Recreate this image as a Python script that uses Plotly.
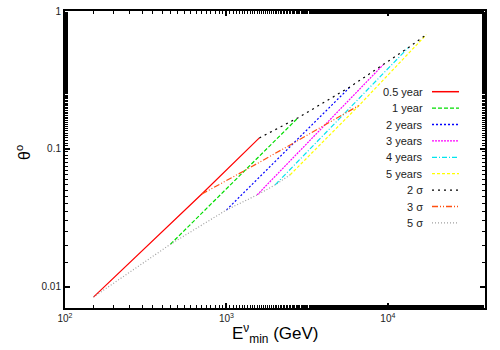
import plotly.graph_objects as go

# valores (E en GeV, theta en grados)
nombres_anios = ["0.5 year", "1 year", "2 years", "3 years", "4 years", "5 years"]
nombres_sigma = ["2 σ", "3 σ", "5 σ"]

# extremo inferior de cada curva (sobre la línea de 5 sigma)
e_5sigma = [150, 450, 1000, 1550, 2005, 2484]
th_5sigma = [0.0084, 0.0203, 0.036, 0.0463, 0.0548, 0.0648]

# cruce con la línea de 3 sigma
e_3sigma = [704, 1306, 2636, 4030, 5260, 6650]
th_3sigma = [0.047, 0.0698, 0.111, 0.147, 0.175, 0.207]

# extremo superior (sobre la línea de 2 sigma)
e_2sigma = [1600, 2780, 5850, 9350, 13370, 17300]
th_2sigma = [0.12, 0.168, 0.282, 0.407, 0.541, 0.673]

x_ticks = [100, 1000, 10000]
x_ticktext = ["10<sup>2</sup>", "10<sup>3</sup>", "10<sup>4</sup>"]
y_ticks = [0.01, 0.1, 1]
y_ticktext = ["0.01", "0.1", "1"]

colores_anios = ["#ff0000", "#00dd00", "#0000ff", "#ff00ff", "#00e5ee", "#ffff00"]
dash_anios = ["solid", "4px,2px", "2px,2px", "2px,1px", "5px,2px,1px,2px", "3px,2px"]
colores_sigma = ["#000000", "#ff5010", "#a0a0a0"]
dash_sigma = ["2px,4px", "6px,2px,1px,2px,1px,2px", "1px,2px"]

fig = go.Figure()

for i, nombre in enumerate(nombres_anios):
    fig.add_trace(go.Scatter(
        x=[e_5sigma[i], e_3sigma[i], e_2sigma[i]],
        y=[th_5sigma[i], th_3sigma[i], th_2sigma[i]],
        mode="lines",
        line=dict(color=colores_anios[i], width=1.2, dash=dash_anios[i]),
        name=nombre, showlegend=False, hoverinfo="skip"
    ))

series_sigma = [(e_2sigma, th_2sigma), (e_3sigma, th_3sigma), (e_5sigma, th_5sigma)]
for (xs, ys), nombre, col, dsh in zip(series_sigma, nombres_sigma, colores_sigma, dash_sigma):
    fig.add_trace(go.Scatter(
        x=xs, y=ys, mode="lines",
        line=dict(color=col, width=1.2, dash=dsh),
        name=nombre, showlegend=False, hoverinfo="skip"
    ))

# área del gráfico en píxeles: x 65..485, y 11..308
def px_x(px):
    return (px - 65) / 420.0

def px_y(py):
    return (308 - py) / 297.0

# leyenda manual: texto alineado a la derecha y muestra de línea a la derecha
todos = nombres_anios + nombres_sigma
colores = colores_anios + colores_sigma
dashes = dash_anios + dash_sigma
for k, nombre in enumerate(todos):
    yp = px_y(91.7 + 16.4 * k)
    fig.add_annotation(
        x=px_x(425), y=yp, xref="paper", yref="paper",
        text=nombre, showarrow=False, xanchor="right", yanchor="middle",
        font=dict(size=11, color="#222222")
    )
    fig.add_shape(
        type="line", xref="paper", yref="paper",
        x0=px_x(432), x1=px_x(459), y0=yp, y1=yp,
        line=dict(color=colores[k], width=1.5 if k == 0 else 1.3, dash=dashes[k])
    )

# títulos de ejes
fig.add_annotation(
    x=px_x(275), y=px_y(333), xref="paper", yref="paper",
    text="E<sup>ν</sup><sub>min</sub> (GeV)", showarrow=False,
    xanchor="center", yanchor="middle", font=dict(size=17, color="black")
)
fig.add_annotation(
    x=px_x(23), y=px_y(153), xref="paper", yref="paper",
    text="θ<sup>o</sup>", showarrow=False, textangle=-90,
    xanchor="center", yanchor="middle", font=dict(size=16, color="black")
)

fig.update_layout(
    width=500, height=350,
    margin=dict(l=65, r=15, t=11, b=42),
    plot_bgcolor="white", paper_bgcolor="white",
    font=dict(family="Liberation Sans, Arial, sans-serif", color="black"),
    showlegend=False
)

fig.update_xaxes(
    type="log", range=[2, 4.602], automargin=False,
    tickvals=x_ticks, ticktext=x_ticktext, ticklabeloverflow="allow",
    ticks="inside", ticklen=5, tickwidth=1.5, tickcolor="black",
    minor=dict(ticks="inside", ticklen=3, tickwidth=1, tickcolor="black", showgrid=False),
    showline=True, linewidth=2, linecolor="black", mirror="ticks",
    showgrid=False, zeroline=False,
    tickfont=dict(size=10, color="#222222")
)
fig.update_yaxes(
    type="log", range=[-2.155, 0], automargin=False,
    tickvals=y_ticks, ticktext=y_ticktext, ticklabeloverflow="allow",
    ticks="inside", ticklen=5, tickwidth=1.5, tickcolor="black",
    minor=dict(ticks="inside", ticklen=3, tickwidth=1, tickcolor="black", showgrid=False),
    showline=True, linewidth=2, linecolor="black", mirror="ticks",
    showgrid=False, zeroline=False,
    tickfont=dict(size=10, color="#222222")
)

# quitar el margen por defecto del <body> para que la figura empiece en (0, 0)
fig.write_html("out.html", config={"displayModeBar": False},
               post_script="document.body.style.margin='0';")
